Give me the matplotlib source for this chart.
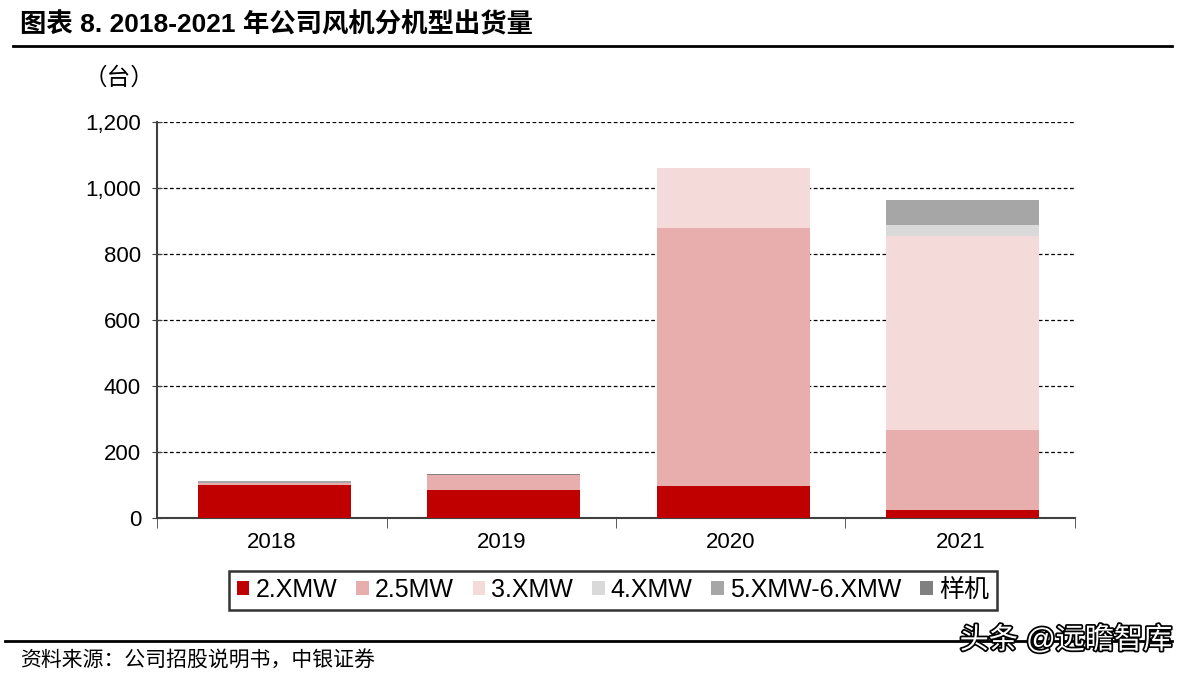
import matplotlib.pyplot as plt
import matplotlib.patheffects as pe
from matplotlib.patches import Patch
import numpy as np

plt.rcParams['font.family'] = ['Liberation Sans', 'Noto Sans CJK SC', 'DejaVu Sans']

# =============================
# DATA
# =============================
years = ["2018", "2019", "2020", "2021"]
series_names = ["2.XMW", "2.5MW", "3.XMW", "4.XMW", "5.XMW-6.XMW", "样机"]
v_2x = [101, 85, 97, 24]
v_25 = [6, 46, 782, 243]
v_3x = [0, 0, 181, 588]
v_4x = [0, 0, 0, 33]
v_56 = [5, 0, 0, 76]
v_proto = [0, 2, 0, 0]
colors = ["#c00000", "#e8aeae", "#f5dada", "#d9d9d9", "#a6a6a6", "#808080"]

series = [v_2x, v_25, v_3x, v_4x, v_56, v_proto]

fig = plt.figure(figsize=(11.89, 6.78), dpi=100)
ax = fig.add_axes([157 / 1189, 1 - 518 / 678, (1075 - 157) / 1189, (518 - 122) / 678])

x = np.arange(len(years))
bottom = np.zeros(len(years))
for vals, name, c in zip(series, series_names, colors):
    ax.bar(x + 0.01, vals, width=0.667, bottom=bottom, color=c, label=name, zorder=3)
    bottom += np.array(vals)

ax.set_xlim(-0.5, 3.5)
ax.set_ylim(0, 1200)
ax.set_yticks(range(0, 1201, 200))
ax.set_yticklabels([f"{v:,}" for v in range(0, 1201, 200)], fontsize=16)
ax.yaxis.grid(True, linestyle=(0, (3, 2)), color="black", linewidth=0.9, zorder=0)

# category labels in the middle, tick marks on the boundaries
ax.set_xticks(x)
ax.set_xticklabels(years, fontsize=16)
ax.tick_params(axis="x", length=0, pad=10)
ax.set_xticks(np.arange(-0.5, 3.6, 1), minor=True)
ax.tick_params(axis="x", which="minor", length=7, direction="out", color="#404040")
ax.tick_params(axis="y", length=7, direction="inout", color="#404040", pad=8)

for s in ["top", "right"]:
    ax.spines[s].set_visible(False)
for s in ["left", "bottom"]:
    ax.spines[s].set_color("#404040")
    ax.spines[s].set_linewidth(1.5)

# legend
handles = [Patch(facecolor=c, label=n) for n, c in zip(series_names, colors)]
leg = fig.legend(handles=handles, loc="center", bbox_to_anchor=(613 / 1189, 1 - 590 / 678),
                 ncol=6, fontsize=18, frameon=True, fancybox=False, edgecolor="black",
                 handlelength=0.5, handleheight=0.5, handletextpad=0.25, columnspacing=0.75,
                 borderpad=0.3)
leg.get_frame().set_linewidth(1.8)

# title, unit, lines, source
fig.text(20 / 1189, 1 - 25 / 678, "图表 8. 2018-2021 年公司风机分机型出货量",
         fontsize=19, fontweight="bold", va="center", ha="left")
fig.add_artist(plt.Line2D([13 / 1189, 1172 / 1189], [1 - 46 / 678] * 2, color="black", linewidth=2))
fig.text(84 / 1189, 1 - 78 / 678, "（台）", fontsize=17, va="center", ha="left")
fig.add_artist(plt.Line2D([5 / 1189, 1172 / 1189], [1 - 641 / 678] * 2, color="black", linewidth=2))
fig.text(20 / 1189, 1 - 661 / 678, "资料来源：公司招股说明书，中银证券",
         fontsize=15, style="italic", va="center", ha="left")
fig.text(1172 / 1189, 1 - 640 / 678, "头条 @远瞻智库", fontsize=21, color="white",
         va="center", ha="right",
         path_effects=[pe.withStroke(linewidth=2.5, foreground="black")])

fig.savefig("out.png", dpi=100)
